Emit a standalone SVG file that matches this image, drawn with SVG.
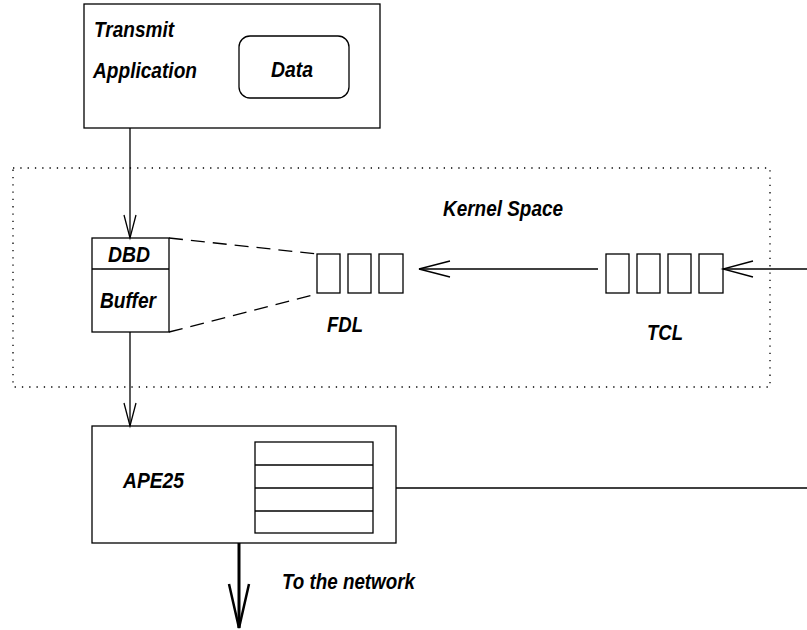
<svg xmlns="http://www.w3.org/2000/svg" width="807" height="630" viewBox="0 0 807 630">
<style>
text{font-family:"Liberation Sans",Arial,sans-serif;font-weight:bold;font-style:italic;font-size:22px;fill:#000}
.box{fill:#fff;stroke:#000;stroke-width:1.3}
.ln{fill:none;stroke:#000;stroke-width:1.3}
.hd{fill:none;stroke:#000;stroke-width:1.3}
</style>
<rect width="807" height="630" fill="#fff"/>
<g id="kernel">
<rect x="13" y="168" width="757" height="219" fill="none" stroke="#000" stroke-width="1.3" stroke-dasharray="1.3 6"/>
<text x="443" y="216" textLength="120" lengthAdjust="spacingAndGlyphs">Kernel Space</text>
</g>
<g id="app">
<rect class="box" x="84" y="4" width="296" height="124"/>
<text x="94" y="37" textLength="80" lengthAdjust="spacingAndGlyphs">Transmit</text>
<text x="93" y="78" textLength="104" lengthAdjust="spacingAndGlyphs">Application</text>
<rect class="box" x="239" y="36" width="110" height="62" rx="11"/>
<text x="271" y="77" textLength="42" lengthAdjust="spacingAndGlyphs">Data</text>
</g>
<g id="dbd">
<rect class="box" x="92" y="238" width="77" height="94"/>
<line class="ln" x1="92" y1="269" x2="169" y2="269"/>
<text x="108" y="262" textLength="42" lengthAdjust="spacingAndGlyphs">DBD</text>
<text x="100" y="308" textLength="56" lengthAdjust="spacingAndGlyphs">Buffer</text>
</g>
<g id="fdl">
<rect class="box" x="317" y="254" width="23" height="39"/>
<rect class="box" x="348" y="254" width="23" height="39"/>
<rect class="box" x="379" y="254" width="24" height="39"/>
<text x="327" y="332" textLength="36" lengthAdjust="spacingAndGlyphs">FDL</text>
</g>
<g id="tcl">
<rect class="box" x="606" y="254" width="23" height="39"/>
<rect class="box" x="637" y="254" width="23" height="39"/>
<rect class="box" x="668" y="254" width="23" height="39"/>
<rect class="box" x="699" y="254" width="24" height="39"/>
<text x="647" y="340" textLength="36" lengthAdjust="spacingAndGlyphs">TCL</text>
</g>
<g id="ape25">
<rect class="box" x="92" y="426" width="304" height="117"/>
<text x="123" y="488" textLength="61" lengthAdjust="spacingAndGlyphs">APE25</text>
<rect class="box" x="255" y="442" width="118" height="91"/>
<line class="ln" x1="255" y1="465" x2="373" y2="465"/>
<line class="ln" x1="255" y1="488" x2="373" y2="488"/>
<line class="ln" x1="255" y1="511" x2="373" y2="511"/>
</g>
<g id="network-label">
<text x="282" y="589" textLength="133" lengthAdjust="spacingAndGlyphs">To the network</text>
</g>
<g id="connectors">
<line class="ln" x1="130" y1="128" x2="130" y2="238"/>
<polyline class="hd" points="124,215 130,238 136,215"/>
<line class="ln" x1="130" y1="332" x2="130" y2="426"/>
<polyline class="hd" points="124,403 130,426 136,403"/>
<line class="ln" x1="169" y1="238" x2="317" y2="254" stroke-dasharray="14 8"/>
<line class="ln" x1="169" y1="332" x2="317" y2="294" stroke-dasharray="14 8"/>
<line class="ln" x1="419" y1="269" x2="598" y2="269"/>
<polyline class="hd" points="450,261 419,269 450,277"/>
<line class="ln" x1="723" y1="269" x2="807" y2="269"/>
<polyline class="hd" points="753,261 723,269 753,277"/>
<line class="ln" x1="396" y1="488" x2="807" y2="488"/>
<line x1="239" y1="543" x2="239" y2="628" stroke="#000" stroke-width="3"/>
<polyline points="229,584 239,628 249,584" fill="none" stroke="#000" stroke-width="2.5"/>
</g>
</svg>
